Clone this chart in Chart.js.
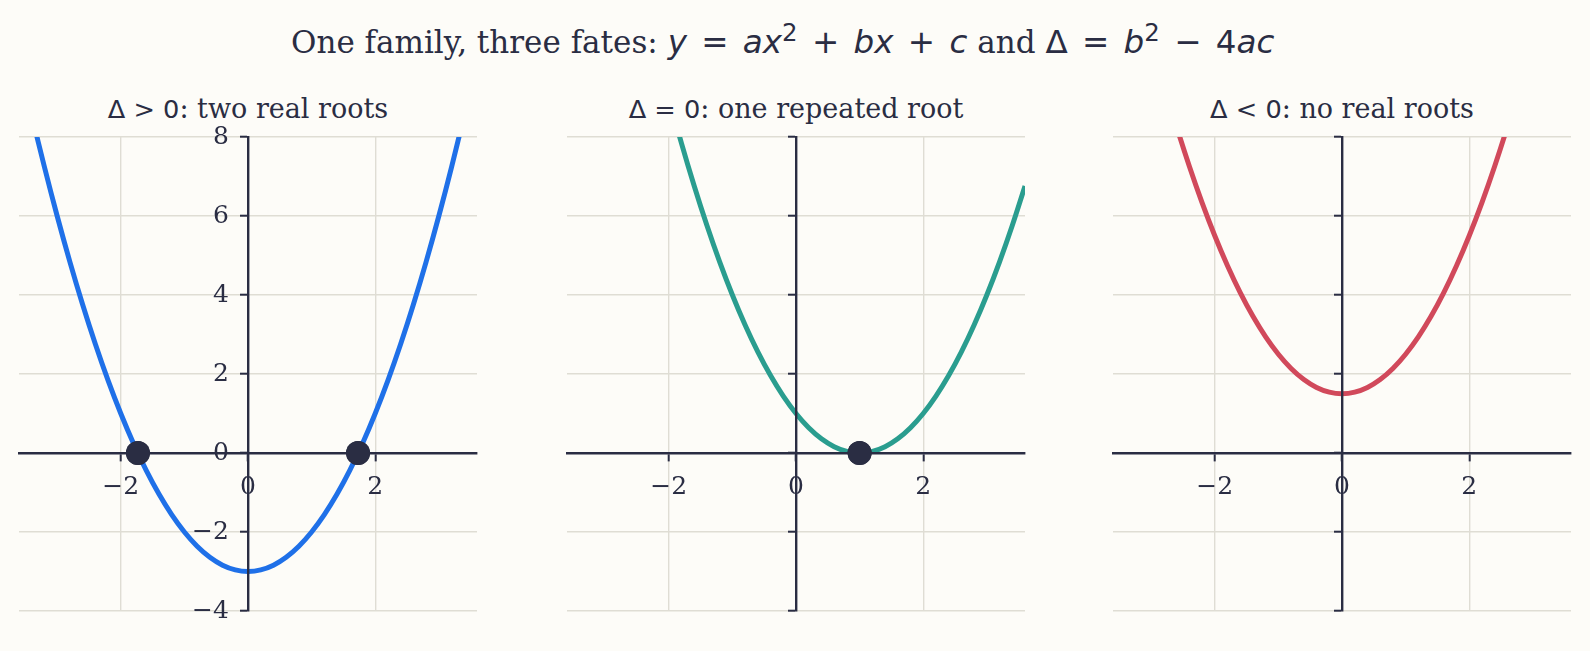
<!DOCTYPE html>
<html>
<head>
<meta charset="utf-8">
<script src="https://cdn.jsdelivr.net/npm/chart.js@4.4.1/dist/chart.umd.min.js"></script>
<style>
  html, body { margin: 0; padding: 0; background: #fdfcf8; }
  body {
    width: 1590px; height: 651px; position: relative; overflow: hidden;
    font-family: "DejaVu Serif", serif; color: #2a2d43;
  }
  .title {
    position: absolute; left: 291px; top: 26px;
    font-size: 31px; line-height: 1; white-space: nowrap;
  }
  .m { font-family: "DejaVu Sans", sans-serif; font-size: 1.05em; word-spacing: 4px; }
  sup { font-size: 0.75em; vertical-align: 0.5em; line-height: 0; }
  .sub {
    position: absolute; top: 95px; width: 458px;
    text-align: center; font-size: 27px; line-height: 1; white-space: nowrap;
  }
  .sub .m { font-size: 0.95em; word-spacing: 0; }
  canvas { position: absolute; top: 117px; }
</style>
</head>
<body>
<div class="title">One family, three fates: <span class="m"><i>y</i> = <i>ax</i><sup>2</sup> + <i>bx</i> + <i>c</i></span> and <span class="m">Δ = <i>b</i><sup>2</sup> − 4<i>ac</i></span></div>

<div class="sub" style="left:19px"><span class="m">Δ &gt; 0</span>: two real roots</div>
<div class="sub" style="left:567px"><span class="m">Δ = 0</span>: one repeated root</div>
<div class="sub" style="left:1113px"><span class="m">Δ &lt; 0</span>: no real roots</div>

<canvas id="c-two" width="482" height="514" style="left:7px"></canvas>
<canvas id="c-one" width="482" height="514" style="left:555px"></canvas>
<canvas id="c-none" width="482" height="514" style="left:1101px"></canvas>

<script>
// sample positions along x, and the curve heights
const xs = [-3.6, -3.4, -3.2, -3.0, -2.8, -2.6, -2.4, -2.2, -2.0, -1.8, -1.6, -1.4, -1.2,
            -1.0, -0.8, -0.6, -0.4, -0.2, 0.0, 0.2, 0.4, 0.6, 0.8, 1.0, 1.2, 1.4, 1.6,
            1.8, 2.0, 2.2, 2.4, 2.6, 2.8, 3.0, 3.2, 3.4, 3.6];

const yTwoRoots = [9.96, 8.56, 7.24, 6.0, 4.84, 3.76, 2.76, 1.84, 1.0, 0.24, -0.44, -1.04, -1.56,
                   -2.0, -2.36, -2.64, -2.84, -2.96, -3.0, -2.96, -2.84, -2.64, -2.36, -2.0, -1.56, -1.04, -0.44,
                   0.24, 1.0, 1.84, 2.76, 3.76, 4.84, 6.0, 7.24, 8.56, 9.96];

const yOneRoot = [21.16, 19.36, 17.64, 16.0, 14.44, 12.96, 11.56, 10.24, 9.0, 7.84, 6.76, 5.76, 4.84,
                  4.0, 3.24, 2.56, 1.96, 1.44, 1.0, 0.64, 0.36, 0.16, 0.04, 0.0, 0.04, 0.16, 0.36,
                  0.64, 1.0, 1.44, 1.96, 2.56, 3.24, 4.0, 4.84, 5.76, 6.76];

const yNoRoots = [14.46, 13.06, 11.74, 10.5, 9.34, 8.26, 7.26, 6.34, 5.5, 4.74, 4.06, 3.46, 2.94,
                  2.5, 2.14, 1.86, 1.66, 1.54, 1.5, 1.54, 1.66, 1.86, 2.14, 2.5, 2.94, 3.46, 4.06,
                  4.74, 5.5, 6.34, 7.26, 8.26, 9.34, 10.5, 11.74, 13.06, 14.46];

const rootsTwo = [-1.73, 1.73];
const rootsOne = [1.0];
const rootsNone = [];

const xTicks = [-2, 0, 2];
const yTicks = [-4, -2, 0, 2, 4, 6, 8];

const INK = '#2a2d43';
const GRID = '#dfddd4';
const SERIF = '"DejaVu Serif", serif';

const fmt = v => v < 0 ? '\u2212' + Math.abs(v) : String(v);

// centred axes should not eat into the plot area
const noPad = s => { s.paddingTop = 0; s.paddingBottom = 0; s.paddingLeft = 0; s.paddingRight = 0; };

// matplotlib puts markers above the spines; redraw them last
const markersOnTop = {
  id: 'markersOnTop',
  afterDraw(chart) {
    const meta = chart.getDatasetMeta(0);
    meta.data.forEach(p => p.draw(chart.ctx, chart.chartArea));
  },
};

function makePanel(id, ys, roots, color, showYLabels) {
  const curve = xs.map((x, i) => ({ x, y: ys[i] }));
  const dots = roots.map(x => ({ x, y: 0 }));

  const scales = {
    x: {
      type: 'linear',
      min: -3.6,
      max: 3.6,
      position: { y: 0 },
      afterBuildTicks: s => { s.ticks = xTicks.map(v => ({ value: v })); },
      afterFit: noPad,
      grid: { color: GRID, lineWidth: 1.4, tickColor: INK, tickWidth: 2, tickLength: 7 },
      border: { color: INK, width: 2.4, z: 1 },
      ticks: { color: INK, font: { family: SERIF, size: 25 }, padding: 12,
               maxRotation: 0, autoSkip: false, callback: fmt },
    },
    y: {
      type: 'linear',
      min: -4,
      max: 8,
      position: { x: 0 },
      afterBuildTicks: s => { s.ticks = yTicks.map(v => ({ value: v })); },
      afterFit: noPad,
      grid: { color: GRID, lineWidth: 1.4, tickColor: INK, tickWidth: 2, tickLength: 7 },
      border: { color: INK, width: 2.4, z: 1 },
      ticks: { display: false },
    },
  };

  if (showYLabels) {
    // labels only, set just left of the x = 0 spine
    scales.yl = {
      type: 'linear',
      axis: 'y',
      min: -4,
      max: 8,
      position: { x: -0.3 },
      afterBuildTicks: s => { s.ticks = yTicks.map(v => ({ value: v })); },
      afterFit: noPad,
      grid: { display: false },
      border: { display: false },
      ticks: { color: INK, font: { family: SERIF, size: 25 }, autoSkip: false, callback: fmt },
    };
  }

  new Chart(document.getElementById(id), {
    type: 'scatter',
    data: {
      datasets: [
        {
          data: dots,
          pointRadius: 12,
          pointHoverRadius: 12,
          pointBackgroundColor: INK,
          pointBorderWidth: 0,
          showLine: false,
          clip: false,
          order: 0,
        },
        {
          data: curve,
          showLine: true,
          borderColor: color,
          borderWidth: 5,
          pointRadius: 0,
          tension: 0.4,
          clip: 0,
          order: 1,
        },
      ],
    },
    options: {
      responsive: false,
      animation: false,
      layout: { padding: { left: 12, right: 12, top: 20, bottom: 20 } },
      plugins: { legend: { display: false }, tooltip: { enabled: false } },
      scales,
    },
    plugins: [markersOnTop],
  });
}

makePanel('c-two', yTwoRoots, rootsTwo, '#1f70e8', true);
makePanel('c-one', yOneRoot, rootsOne, '#2a9d8f', false);
makePanel('c-none', yNoRoots, rootsNone, '#d1495b', false);
</script>
</body>
</html>
